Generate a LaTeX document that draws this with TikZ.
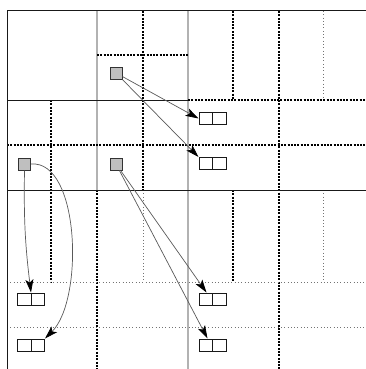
\documentclass[tikz,border=0pt]{standalone}
\usetikzlibrary{arrows.meta}
\begin{document}
\begin{tikzpicture}[x=1pt,y=-1pt,
  solidline/.style={black!90,line width=1pt},
  grayline/.style={black!30,line width=1.8pt},
  thickdot/.style={black,line width=1.8pt,dash pattern=on 2pt off 1.3pt},
  lightdot/.style={black!55,line width=0.8pt,dash pattern=on 0.9pt off 2.4pt},
  src/.style={draw=black!80,fill=black!25,line width=1pt,minimum width=12pt,minimum height=12pt,inner sep=0pt},
  dbl/.style={draw=black!90,fill=white,line width=1pt,minimum width=27pt,minimum height=12pt,inner sep=0pt,
    path picture={\draw[black!90,line width=1pt] (path picture bounding box.north) -- (path picture bounding box.south);}},
  conn/.style={black!65,line width=0.7pt,-{Stealth[length=13pt,width=8pt,inset=3pt,black]}}]
\useasboundingbox (0,0) rectangle (366,369);
% gray lines
\draw[grayline] (97,11) -- (97,190);
\draw[grayline] (188,11) -- (188,369);
% thick dotted
\draw[thickdot] (143,11) -- (143,190);
\draw[thickdot] (97,190) -- (97,369);
\draw[thickdot] (97,55) -- (188,55);
\draw[thickdot] (51,100) -- (51,282);
\draw[thickdot] (7,145) -- (366,145);
\draw[thickdot] (188,100) -- (366,100);
\draw[thickdot] (233,11) -- (233,100);
\draw[thickdot] (233,190) -- (233,282);
\draw[thickdot] (279,11) -- (279,369);
% light dotted
\draw[lightdot] (143,190) -- (143,282);
\draw[lightdot] (323,11) -- (323,100);
\draw[lightdot] (323,190) -- (323,282);
\draw[lightdot] (7,282) -- (366,282);
\draw[lightdot] (7,327) -- (366,327);
% solid
\draw[solidline] (7,369) -- (7,11) -- (366,11);
\draw[solidline] (7,100) -- (188,100);
\draw[solidline] (7,190) -- (366,190);
% nodes
\node[src] (s1) at (116,73) {};
\node[src] (s2) at (24.5,164) {};
\node[src] (s3) at (116,164) {};
\node[dbl] (b1) at (212.5,118.5) {};
\node[dbl] (b2) at (212.5,163.5) {};
\node[dbl] (b3) at (31,299) {};
\node[dbl] (b4) at (31,345) {};
\node[dbl] (b5) at (212.5,299) {};
\node[dbl] (b6) at (212.5,345) {};
% connectors
\draw[conn] (s1) -- (b1.west);
\draw[conn] (s1) -- (b2.north west);
\draw[conn] (s3) -- ([xshift=-6pt]b5.north);
\draw[conn] (s3) -- ([xshift=-5pt]b6.north);
\draw[conn] (s2.south) to[bend right=4] (b3.north);
\draw[conn] (s2.east) .. controls (80,160) and (84,300) .. (b4.north east);
\end{tikzpicture}
\end{document}
